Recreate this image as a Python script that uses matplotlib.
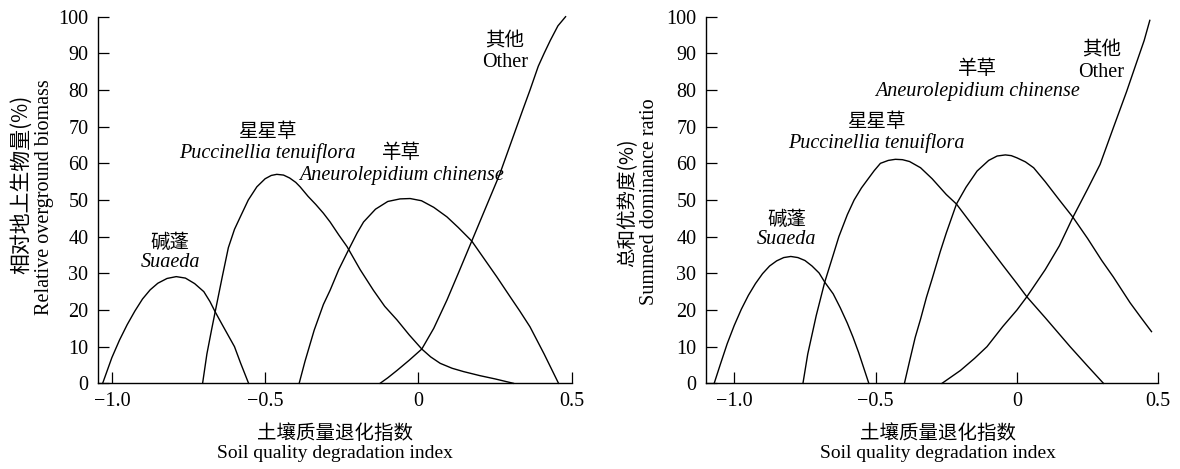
import matplotlib
matplotlib.use('Agg')
import matplotlib.pyplot as plt

plt.rcParams['font.family'] = ['Liberation Serif', 'Noto Sans CJK SC']
plt.rcParams['axes.unicode_minus'] = True

# ---- left panel: relative overground biomass (%)
bio_suaeda_x = [-1.03, -1.015, -1.0, -0.975, -0.95, -0.925, -0.9, -0.875, -0.85, -0.82, -0.79,
                -0.76, -0.73, -0.7, -0.68, -0.663, -0.64, -0.62, -0.6, -0.58, -0.554]
bio_suaeda_y = [0, 3.5, 7, 11.8, 16, 19.7, 23, 25.5, 27.3, 28.6, 29.1,
                28.7, 27.2, 25, 22.3, 19.5, 16, 13, 10, 5.5, 0]

bio_pucc_x = [-0.704, -0.69, -0.675, -0.663, -0.64, -0.62, -0.6, -0.581, -0.555, -0.527, -0.5,
              -0.48, -0.462, -0.44, -0.42, -0.4, -0.386, -0.36, -0.335, -0.31, -0.288, -0.26,
              -0.233, -0.19, -0.147, -0.11, -0.07, -0.03, 0.011, 0.04, 0.071, 0.11, 0.147,
              0.2, 0.25, 0.31]
bio_pucc_y = [0, 8, 14.5, 19.5, 29, 37, 42, 45.4, 50, 53.6, 55.8,
              56.7, 57, 56.8, 56, 54.8, 53.6, 51, 48.8, 46.4, 44, 40.5,
              37.3, 31, 25.4, 21, 17.3, 13.2, 9.35, 7.2, 5.45, 4.1, 3.2,
              2.1, 1.2, 0]

bio_aneu_x = [-0.389, -0.37, -0.34, -0.31, -0.288, -0.26, -0.228, -0.2, -0.179, -0.14, -0.1,
              -0.06, -0.027, 0.01, 0.05, 0.093, 0.13, 0.174, 0.21, 0.256, 0.3, 0.33, 0.364,
              0.41, 0.457]
bio_aneu_y = [0, 6, 14.5, 21.5, 25.4, 31, 36.4, 41, 44, 47.5, 49.6,
              50.3, 50.4, 49.8, 48, 45.4, 42.5, 38.8, 34.5, 29, 23.5, 19.8, 15.4,
              8, 0]

bio_other_x = [-0.125, -0.1, -0.07, -0.03, 0.011, 0.05, 0.093, 0.13, 0.174, 0.22, 0.265,
               0.31, 0.34, 0.364, 0.391, 0.41, 0.43, 0.455, 0.48]
bio_other_y = [0, 1.5, 3.5, 6.3, 9.35, 15, 22.7, 30, 38.8, 48, 57,
               67.5, 74.5, 80, 86.5, 90, 93.5, 97.5, 100]

# ---- right panel: summed dominance ratio (%)
sdr_suaeda_x = [-1.071, -1.05, -1.025, -1.0, -0.975, -0.95, -0.925, -0.9, -0.875, -0.85, -0.825,
                -0.8, -0.775, -0.75, -0.725, -0.7, -0.68, -0.65, -0.625, -0.6, -0.58, -0.56, -0.524]
sdr_suaeda_y = [0, 5, 10.8, 15.8, 20.2, 24, 27.2, 29.9, 32, 33.4, 34.3,
                34.6, 34.3, 33.5, 32, 30.1, 27.6, 24.4, 20.6, 16.4, 12.6, 8.4, 0]

sdr_pucc_x = [-0.757, -0.74, -0.71, -0.68, -0.65, -0.63, -0.6, -0.576, -0.55, -0.529, -0.505,
              -0.483, -0.455, -0.43, -0.405, -0.38, -0.341, -0.3, -0.25, -0.214, -0.16, -0.106,
              -0.05, 0.0, 0.035, 0.1, 0.188, 0.25, 0.306]
sdr_pucc_y = [0, 8, 18.5, 27.6, 35, 40, 46, 50, 53.3, 55.5, 58,
              60, 60.8, 61.1, 61, 60.5, 58.8, 55.8, 51.5, 48.9, 43.4, 37.9,
              32.2, 27.2, 23.6, 17.9, 10, 4.7, 0]

sdr_aneu_x = [-0.398, -0.38, -0.36, -0.341, -0.32, -0.3, -0.271, -0.25, -0.214, -0.18, -0.141,
              -0.1, -0.07, -0.041, -0.02, 0.0, 0.03, 0.059, 0.1, 0.15, 0.198, 0.25, 0.3,
              0.341, 0.4, 0.44, 0.476]
sdr_aneu_y = [0, 6, 12.5, 17.5, 23.5, 28.5, 36, 41, 48.9, 53.5, 57.9,
              60.8, 62, 62.3, 62.1, 61.5, 60.4, 58.8, 55, 50, 45.3, 39.5, 33.5,
              29, 22, 17.8, 14.1]

sdr_other_x = [-0.265, -0.2, -0.15, -0.106, -0.05, 0.0, 0.035, 0.1, 0.15, 0.198, 0.25,
               0.294, 0.341, 0.388, 0.424, 0.45, 0.47]
sdr_other_y = [0, 3.5, 6.8, 10, 15.5, 20, 23.6, 31, 37.5, 45.3, 53,
               59.7, 69.7, 79.6, 87.7, 93.5, 99]

xticks = [-1.0, -0.5, 0, 0.5]
xtick_labels = ['\u22121.0', '\u22120.5', '0', '0.5']
yticks = list(range(0, 101, 10))

# label texts: (chinese, latin, x, y chinese, y latin) in data coords
bio_labels = [('碱蓬', 'Suaeda', -0.81, 38.4, 32.9),
              ('星星草', 'Puccinellia tenuiflora', -0.493, 68.7, 62.7),
              ('羊草', 'Aneurolepidium chinense', -0.055, 63.0, 56.8),
              ('其他', 'Other', 0.282, 93.4, 87.5)]
sdr_labels = [('碱蓬', 'Suaeda', -0.815, 44.6, 39.3),
              ('星星草', 'Puccinellia tenuiflora', -0.499, 71.3, 65.4),
              ('羊草', 'Aneurolepidium chinense', -0.14, 85.8, 79.7),
              ('其他', 'Other', 0.298, 90.8, 84.9)]

fig = plt.figure(figsize=(11.8, 4.69), dpi=100)
ax1 = fig.add_axes([0.0831, 0.1827, 0.4014, 0.7817])
ax2 = fig.add_axes([0.5983, 0.1827, 0.3833, 0.7817])


def style_axes(ax, xlim):
    ax.set_xlim(xlim)
    ax.set_ylim(0, 100)
    for s in ['top', 'right']:
        ax.spines[s].set_visible(False)
    for s in ['left', 'bottom']:
        ax.spines[s].set_linewidth(1.0)
    ax.set_xticks(xticks)
    ax.set_xticklabels(xtick_labels)
    ax.set_yticks(yticks)
    ax.tick_params(direction='in', length=8, width=0.9, labelsize=14.5)
    ax.tick_params(axis='x', pad=6)
    ax.tick_params(axis='y', pad=7)


def draw(ax, series, labels):
    for xs, ys in series:
        ax.plot(xs, ys, color='black', lw=1.0, clip_on=False)
    for cn, la, x, ycn, yla in labels:
        ax.text(x, ycn, cn, ha='center', va='center', fontsize=14,
                family=['Noto Sans CJK SC'])
        ax.text(x, yla, la, ha='center', va='center', fontsize=14.5,
                style='italic' if la != 'Other' else 'normal')


style_axes(ax1, (-1.045, 0.5))
style_axes(ax2, (-1.1, 0.5))

draw(ax1, [(bio_suaeda_x, bio_suaeda_y), (bio_pucc_x, bio_pucc_y),
           (bio_aneu_x, bio_aneu_y), (bio_other_x, bio_other_y)], bio_labels)
draw(ax2, [(sdr_suaeda_x, sdr_suaeda_y), (sdr_pucc_x, sdr_pucc_y),
           (sdr_aneu_x, sdr_aneu_y), (sdr_other_x, sdr_other_y)], sdr_labels)

# axis titles
fig.text(21 / 1180, 1 - 184 / 469, '相对地上生物量(%)', rotation=90, ha='center', va='center',
         fontsize=15, family=['Noto Sans CJK SC'])
fig.text(45 / 1180, 1 - 197 / 469, 'Relative overground biomass', rotation=90,
         ha='center', va='center', fontsize=14.5)
fig.text(628 / 1180, 1 - 203 / 469, '总和优势度(%)', rotation=90, ha='center', va='center',
         fontsize=14, family=['Noto Sans CJK SC'])
fig.text(650 / 1180, 1 - 202 / 469, 'Summed dominance ratio', rotation=90,
         ha='center', va='center', fontsize=14.5)

for cx in [335, 938]:
    fig.text(cx / 1180, 1 - 433 / 469, '土壤质量退化指数', ha='center', va='center',
             fontsize=14, family=['Noto Sans CJK SC'])
    fig.text(cx / 1180, 1 - 453 / 469, 'Soil quality degradation index', ha='center',
             va='center', fontsize=14)

fig.savefig('out.png', dpi=100)
